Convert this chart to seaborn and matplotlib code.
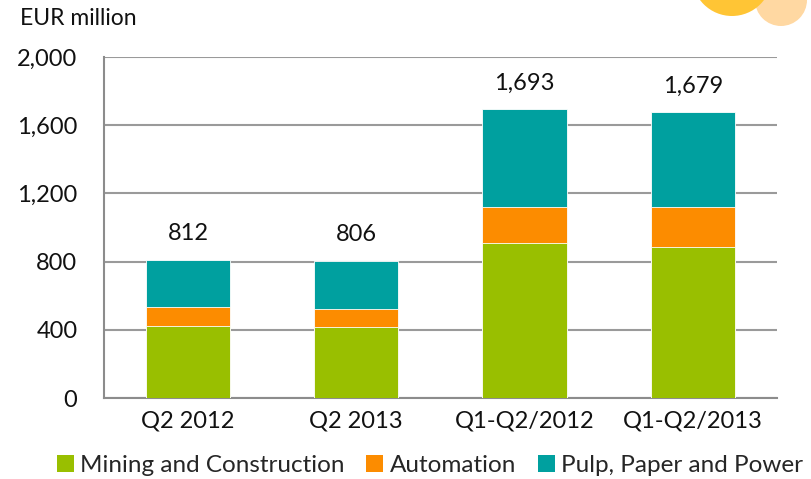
import matplotlib
matplotlib.use('Agg')
import matplotlib.pyplot as plt
from matplotlib.patches import Circle, Patch
import pandas as pd
import seaborn as sns

# Datos (EUR millones)
periodos = ['Q2 2012', 'Q2 2013', 'Q1-Q2/2012', 'Q1-Q2/2013']
mining = [424, 415, 907, 886]
automation = [108, 105, 211, 232]
pulp = [280, 286, 575, 561]
totales = [812, 806, 1693, 1679]
series = ['Mining and Construction', 'Automation', 'Pulp, Paper and Power']
colores = ['#99BF00', '#FC8C00', '#00A09F']

df = pd.DataFrame({'periodo': periodos, 'mining': mining,
                   'automation': automation, 'pulp': pulp})
df['nivel1'] = df['mining']
df['nivel2'] = df['mining'] + df['automation']
df['nivel3'] = df['nivel2'] + df['pulp']

sns.set_theme(style='white')
plt.rcParams['font.family'] = ['Lato', 'DejaVu Sans']

fig = plt.figure(figsize=(8.11, 4.79), dpi=100)
ax = fig.add_axes([0.128, 0.169, 0.830, 0.712])

# Barras apiladas: dibujar de la más alta a la más baja
for col, color in zip(['nivel3', 'nivel2', 'nivel1'], colores[::-1]):
    sns.barplot(data=df, x='periodo', y=col, color=color, width=0.5,
                edgecolor='white', linewidth=0.6, saturation=1, ax=ax,
                zorder=3)

for i, t in enumerate(totales):
    ax.text(i, t + 90, f'{t:,}', ha='center', va='bottom', fontsize=17,
            color='#111111')

ax.set_ylim(0, 2000)
ax.set_xlim(-0.5, 3.5)
ax.set_yticks(range(0, 2001, 400))
ax.set_yticklabels([f'{v:,}' for v in range(0, 2001, 400)])
ax.yaxis.grid(True, color='#9a9a9a', linewidth=1.5, zorder=0)
ax.set_axisbelow(True)
ax.set_xlabel('')
ax.set_ylabel('')
ax.tick_params(axis='both', labelsize=17, colors='#111111', length=0)
ax.tick_params(axis='y', pad=19)
ax.tick_params(axis='x', pad=9)
for s in ['top', 'right']:
    ax.spines[s].set_visible(False)
for s in ['left', 'bottom']:
    ax.spines[s].set_color('#8c8c8c')
    ax.spines[s].set_linewidth(1.5)

fig.text(0.025, 0.962, 'EUR million', fontsize=16.5, color='#111111', va='center')

handles = [Patch(facecolor=c, edgecolor='none') for c in colores]
fig.legend(handles, series, loc='center', bbox_to_anchor=(0.53, 0.029),
           ncol=3, frameon=False, handlelength=0.7,
           handleheight=0.7, handletextpad=0.25, columnspacing=0.9,
           prop={'size': 17.5})

# Círculos decorativos arriba a la derecha
fig.patches.append(Circle((7.32, 4.79 + 0.24), 0.40, transform=fig.dpi_scale_trans,
                          facecolor='#FFC535', edgecolor='none', zorder=1))
fig.patches.append(Circle((7.81, 4.79 + 0.0), 0.26, transform=fig.dpi_scale_trans,
                          facecolor='#FFD8A2', edgecolor='none', zorder=0))

fig.savefig('out.png', dpi=100)
